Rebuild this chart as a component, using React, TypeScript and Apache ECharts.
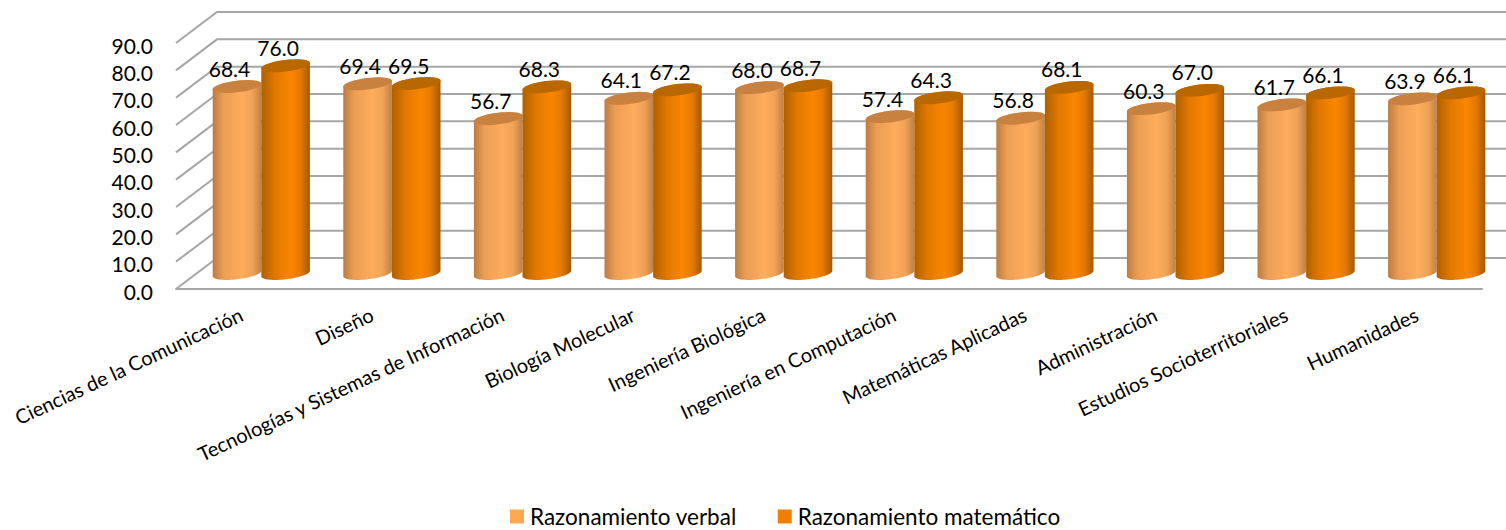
import React, { useEffect, useRef } from "react";
import * as echarts from "echarts";

const categories = [
  "Ciencias de la Comunicación",
  "Diseño",
  "Tecnologías y Sistemas de Información",
  "Biología Molecular",
  "Ingeniería Biológica",
  "Ingeniería en Computación",
  "Matemáticas Aplicadas",
  "Administración",
  "Estudios Socioterritoriales",
  "Humanidades",
];
const verbal = [68.4, 69.4, 56.7, 64.1, 68.0, 57.4, 56.8, 60.3, 61.7, 63.9];
const matematico = [76.0, 69.5, 68.3, 67.2, 68.7, 64.3, 68.1, 67.0, 66.1, 66.1];
const yTicks = [0, 10, 20, 30, 40, 50, 60, 70, 80, 90];

const FONT = "Lato";
const DEPTH_X = 41;
const DEPTH_Y = 31;
const GRID = "#A6A6A6";
const RX = 24.3;
const RY = 5.8;
const SHEAR = 0.115;
const ARC_STEPS = 40;

function wallRender(params: any, api: any) {
  const cs = params.coordSys;
  const y = api.coord([0, api.value(1)])[1];
  const l = cs.x;
  const r = cs.x + cs.width;
  return {
    type: "polyline",
    shape: {
      points: [
        [l, y],
        [l + DEPTH_X, y - DEPTH_Y],
        [r + DEPTH_X, y - DEPTH_Y],
      ],
    },
    style: { fill: "none", stroke: GRID, lineWidth: 2 },
  };
}

// A point of the sheared ellipse that is the rim of a cylinder; a = 0 is the right end.
function rim(cx: number, cy: number, a: number): number[] {
  const dx = RX * Math.cos(a);
  return [cx + dx, cy + RY * Math.sin(a) - SHEAR * dx];
}

function arcPoints(cx: number, cy: number, from: number, to: number): number[][] {
  const pts: number[][] = [];
  for (let i = 0; i <= ARC_STEPS; i++) {
    pts.push(rim(cx, cy, from + ((to - from) * i) / ARC_STEPS));
  }
  return pts;
}

function cylinder(side: number, stops: [number, string][], topColor: string) {
  return (_params: any, api: any) => {
    const cat = api.value(0);
    const val = api.value(1);
    const top = api.coord([cat, val]);
    const base = api.coord([cat, 0]);
    const cx = top[0] + 20 + side * RX;
    const yt = top[1] - DEPTH_Y / 2;
    const yb = base[1] - DEPTH_Y / 2;
    const bottomArc = arcPoints(cx, yb, 0, Math.PI); // right end, through the front, to left end
    const topArc = arcPoints(cx, yt, Math.PI, 2 * Math.PI); // left end, over the back, to right end
    const capArc = arcPoints(cx, yt, 0, 2 * Math.PI);
    return {
      type: "group",
      children: [
        {
          type: "polygon",
          shape: { points: [...bottomArc, ...topArc] },
          style: {
            fill: new echarts.graphic.LinearGradient(
              0,
              0,
              1,
              0,
              stops.map(([offset, color]) => ({ offset, color })),
            ),
          },
        },
        { type: "polygon", shape: { points: capArc }, style: { fill: topColor } },
        {
          type: "text",
          x: cx - 7.5,
          y: yt - 18.5,
          style: {
            text: val.toFixed(1),
            fill: "#000",
            fontFamily: FONT,
            fontSize: 21,
            align: "center",
            verticalAlign: "middle",
            textAlign: "center",
            textVerticalAlign: "middle",
          },
        },
      ],
    };
  };
}

export default function App() {
  const ref = useRef<HTMLDivElement>(null);
  useEffect(() => {
    const chart = echarts.init(ref.current!, null, { renderer: "svg" });
    chart.setOption({
      animation: false,
      backgroundColor: "#fff",
      grid: { left: 176, right: 24, top: 43, bottom: 241 },
      legend: {
        data: ["Razonamiento verbal", "Razonamiento matemático"],
        left: 505,
        top: 500,
        icon: "rect",
        itemWidth: 14,
        itemHeight: 14,
        itemGap: 41,
        textStyle: { fontFamily: FONT, fontSize: 22.5, color: "#000", padding: [0, 0, 0, 1] },
      },
      xAxis: {
        type: "category",
        data: categories,
        axisLine: { show: true, lineStyle: { color: GRID, width: 2 } },
        axisTick: { show: false },
        axisLabel: {
          interval: 0,
          rotate: 25,
          margin: 24,
          color: "#000",
          fontFamily: FONT,
          fontSize: 20,
        },
      },
      yAxis: {
        type: "value",
        min: 0,
        max: 90,
        interval: 10,
        axisLine: { show: false },
        axisTick: { show: false },
        splitLine: { show: false },
        axisLabel: {
          margin: 23,
          color: "#000",
          fontFamily: FONT,
          fontSize: 21,
          verticalAlign: "top",
          lineHeight: 4,
          formatter: (v: number) => v.toFixed(1),
        },
      },
      series: [
        {
          name: "wall",
          type: "custom",
          clip: false,
          renderItem: wallRender,
          data: yTicks.map((v) => [0, v]),
          silent: true,
        },
        {
          name: "Razonamiento verbal",
          type: "custom",
          clip: false,
          itemStyle: { color: "#FFA851" },
          renderItem: cylinder(
            -1,
            [
              [0, "#BC7C40"],
              [0.22, "#EB9E54"],
              [0.6, "#FFAC5C"],
              [0.82, "#EFA257"],
              [1, "#BE8145"],
            ],
            "#C8813F",
          ),
          data: verbal.map((v, i) => [i, v]),
        },
        {
          name: "Razonamiento matemático",
          type: "custom",
          clip: false,
          itemStyle: { color: "#EE7F00" },
          renderItem: cylinder(
            1,
            [
              [0, "#AF6000"],
              [0.28, "#E27800"],
              [0.6, "#FA8600"],
              [0.8, "#E57A00"],
              [1, "#A45900"],
            ],
            "#B96700",
          ),
          data: matematico.map((v, i) => [i, v]),
        },
      ],
    });
    return () => chart.dispose();
  }, []);
  return (
    <div
      ref={ref}
      style={{ position: "absolute", left: 0, top: 0, width: 1506, height: 530 }}
    />
  );
}
